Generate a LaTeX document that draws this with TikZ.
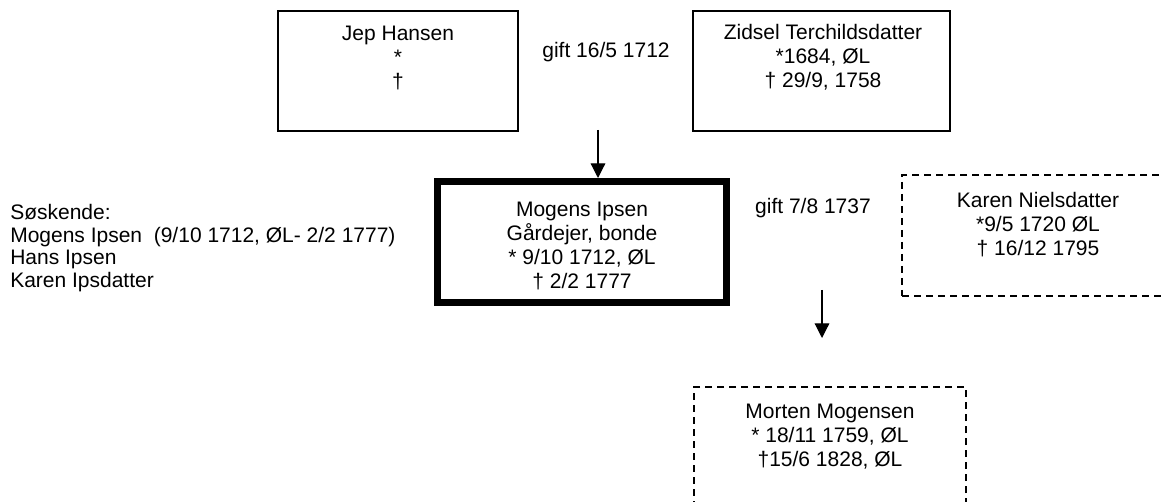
\documentclass[tikz,border=0pt]{standalone}
\usepackage{fontspec}
\setmainfont{Liberation Sans}
\usetikzlibrary{arrows.meta}
\tikzset{
  x=0.75pt, y=-0.75pt,
  txt/.style={align=center, inner sep=0pt, font=\fontsize{15.75pt}{18pt}\selectfont},
  solidbox/.style={draw, line width=1pt, inner sep=0pt, minimum height=90pt},
  thickbox/.style={draw, line width=5.25pt, inner sep=0pt},
  dashbox/.style={draw, line width=0.8pt, dash pattern=on 5.25pt off 3.75pt, inner sep=0pt},
  arr/.style={line width=0.9pt, -{Triangle[length=11pt, width=11pt]}}
}
\begin{document}
\begin{tikzpicture}
\useasboundingbox (0,0) rectangle (1164,502);
\clip (0,0) rectangle (1164,502);
% boxes
\node[solidbox, minimum width=180pt] (jep) at (398,71) {};
\node[solidbox, minimum width=192.75pt] (zidsel) at (821.5,71) {};
\node[thickbox, minimum width=216.75pt, minimum height=90.75pt] (mogens) at (582,242) {};
\node[dashbox, minimum width=204pt, minimum height=90.75pt] (karen) at (1038,235.5) {};
\node[dashbox, minimum width=204pt, minimum height=91.5pt] (morten) at (830,448) {};
% texts
\node[txt] (jeptxt) at (398,58) {Jep Hansen\\*\\†};
\node[txt] (zidseltxt) at (823,57) {Zidsel Terchildsdatter\\*1684, ØL\\† 29/9, 1758};
\node[txt] (gift1) at (606,52) {gift 16/5 1712};
\node[txt] (mogenstxt) at (582,246) {Mogens Ipsen\\Gårdejer, bonde\\* 9/10 1712, ØL\\† 2/2 1777};
\node[txt] (gift2) at (813,208) {gift 7/8 1737};
\node[txt] (karentxt) at (1038,225) {Karen Nielsdatter\\*9/5 1720 ØL\\† 16/12 1795};
\node[txt] (mortentxt) at (830,437) {Morten Mogensen\\* 18/11 1759, ØL\\†15/6 1828, ØL};
\node[txt, align=left, anchor=west, font=\fontsize{15.75pt}{16.8pt}\selectfont] (sib) at (10,248)
  {Søskende:\\Mogens Ipsen~ (9/10 1712, ØL- 2/2 1777)\\Hans Ipsen\\Karen Ipsdatter};
% connectors
\coordinate (a1s) at (598,130);
\draw[arr] (a1s) -- (a1s |- mogens.north);
\coordinate (a2s) at (822,290);
\coordinate (a2e) at (822,338);
\draw[arr] (a2s) -- (a2e);
\end{tikzpicture}
\end{document}
